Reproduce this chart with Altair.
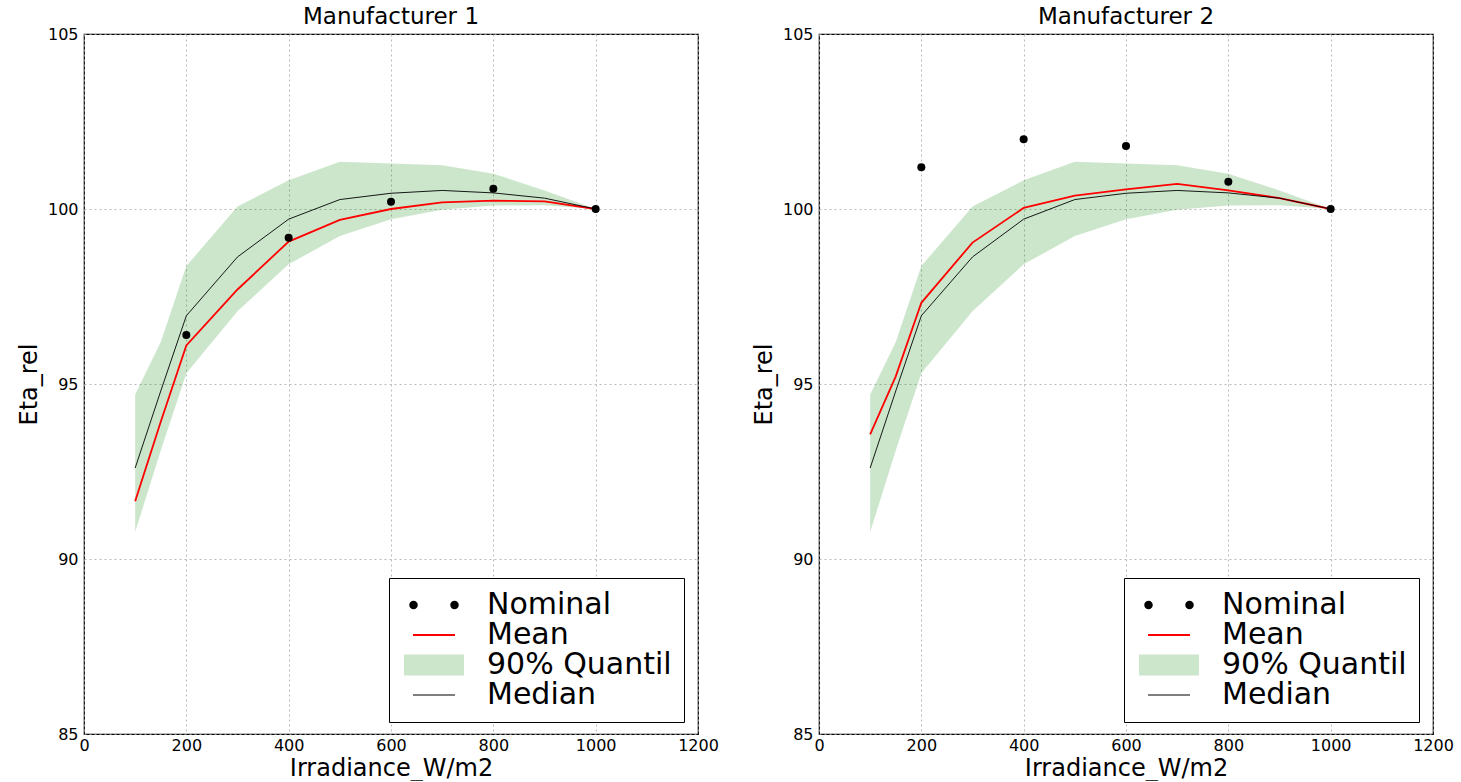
import altair as alt
import pandas as pd

# Irradiance grid of the simulated curves (W/m2)
irradiance = [100, 150, 200, 300, 400, 500, 600, 700, 800, 900, 1000]

# Relative efficiency statistics over the simulated module population
median_eta = [92.60, 94.80, 96.95, 98.63, 99.71, 100.27, 100.45, 100.53, 100.46, 100.31, 100.00]
q05_eta = [90.77, 93.10, 95.31, 97.08, 98.42, 99.23, 99.71, 99.98, 100.10, 100.11, 100.00]
q95_eta = [94.70, 96.20, 98.37, 100.07, 100.82, 101.35, 101.30, 101.25, 101.01, 100.53, 100.00]

mean_eta_m1 = [91.65, 93.92, 96.10, 97.70, 99.07, 99.69, 100.00, 100.19, 100.24, 100.22, 100.00]
mean_eta_m2 = [93.56, 95.22, 97.32, 99.04, 100.03, 100.38, 100.56, 100.72, 100.53, 100.31, 100.00]

# Datasheet (nominal) values
nominal_irr = [200, 400, 600, 800, 1000]
nominal_m1 = [96.40, 99.18, 100.21, 100.58, 100.00]
nominal_m2 = [101.19, 101.99, 101.80, 100.78, 100.00]

x_ticks = [0, 200, 400, 600, 800, 1000, 1200]
y_ticks = [85, 90, 95, 100, 105]

series_names = ["Nominal", "Mean", "90% Quantil", "Median"]
band_color = "#008000"
series_fills = ["black", "red", "#cce6cc", "black"]
# Legend glyphs as SVG paths (unit = sqrt(symbolSize)/2 px)
series_shapes = [
    "M-4.95,0 A0.85,0.85 0 1,0 -3.25,0 A0.85,0.85 0 1,0 -4.95,0 Z "
    "M3.25,0 A0.85,0.85 0 1,0 4.95,0 A0.85,0.85 0 1,0 3.25,0 Z",
    "M-4.2,-0.2 L4.2,-0.2 L4.2,0.2 L-4.2,0.2 Z",
    "M-6,-2.1 L6,-2.1 L6,2.1 L-6,2.1 Z",
    "M-4.2,-0.1 L4.2,-0.1 L4.2,0.1 L-4.2,0.1 Z",
]

FONT = "DejaVu Sans"
PANEL_W = 614
PANEL_H = 700


def panel(title, mean_eta, nominal_eta):
    curves = pd.DataFrame({
        "irr": irradiance,
        "mean": mean_eta,
        "median": median_eta,
        "lo": q05_eta,
        "hi": q95_eta,
    })
    points = pd.DataFrame({"irr": nominal_irr, "eta": nominal_eta})

    x_enc = alt.X(
        "irr:Q",
        scale=alt.Scale(domain=[0, 1200], nice=False),
        axis=alt.Axis(values=x_ticks, title="Irradiance_W/m2", format="d"),
    )
    y_axis = alt.Axis(values=y_ticks, title="Eta_rel", format="d")
    y_scale = alt.Scale(domain=[85, 105], nice=False, zero=False)

    band = alt.Chart(curves).mark_area(color=band_color, opacity=0.2).encode(
        x=x_enc,
        y=alt.Y("lo:Q", scale=y_scale, axis=y_axis),
        y2="hi:Q",
    )
    mean_line = alt.Chart(curves).mark_line(color="red", strokeWidth=1.8).encode(
        x=x_enc, y=alt.Y("mean:Q", scale=y_scale, axis=y_axis)
    )
    median_line = alt.Chart(curves).mark_line(color="black", strokeWidth=0.9).encode(
        x=x_enc, y=alt.Y("median:Q", scale=y_scale, axis=y_axis)
    )
    dots = alt.Chart(points).mark_circle(color="black", size=64, opacity=1).encode(
        x=x_enc, y=alt.Y("eta:Q", scale=y_scale, axis=y_axis)
    )

    legend = alt.Legend(
        title=None,
        orient="none",
        legendX=305,
        legendY=544,
        strokeColor="black",
        fillColor="white",
        padding=12,
        labelFont=FONT,
        labelFontSize=30,
        labelColor="black",
        labelLimit=400,
        symbolSize=100,
        symbolStrokeWidth=0,
        symbolOffset=18,
        labelOffset=38,
        rowPadding=-3,
        cornerRadius=0,
    )
    legend_keys = alt.Chart(pd.DataFrame({"series": series_names})).mark_point(
        filled=True, opacity=1
    ).encode(
        fill=alt.Fill("series:N", sort=None,
                      scale=alt.Scale(domain=series_names, range=series_fills),
                      legend=legend),
        shape=alt.Shape("series:N", sort=None,
                        scale=alt.Scale(domain=series_names, range=series_shapes),
                        legend=legend),
    ).transform_filter("false")

    return alt.layer(band, mean_line, median_line, dots, legend_keys).properties(
        width=PANEL_W, height=PANEL_H, title=title
    )


chart = alt.hconcat(
    panel("Manufacturer 1", mean_eta_m1, nominal_m1),
    panel("Manufacturer 2", mean_eta_m2, nominal_m2),
    spacing=32,
).resolve_scale(
    fill="independent", shape="independent"
).resolve_legend(
    fill="independent", shape="independent"
).properties(
    padding={"left": 16, "top": 5, "right": 2, "bottom": 0},
    background="white",
).configure_view(
    stroke="black", strokeWidth=1.2
).configure_axis(
    labelFont=FONT,
    labelFontSize=16,
    labelColor="black",
    labelPadding=3,
    labelFlush=False,
    labelOverlap=False,
    titleFont=FONT,
    titleFontSize=24,
    titleFontWeight="normal",
    titleColor="black",
    titlePadding=3,
    domain=False,
    ticks=False,
    grid=True,
    gridColor="#a8a8a8",
    gridDash=[2, 3],
    gridWidth=0.8,
).configure_axisY(
    labelPadding=6, titlePadding=6
).configure_title(
    font=FONT, fontSize=23, fontWeight="normal", color="black", anchor="middle", offset=-3
)

chart.save("out.html", embed_options={"renderer": "svg", "actions": False})
